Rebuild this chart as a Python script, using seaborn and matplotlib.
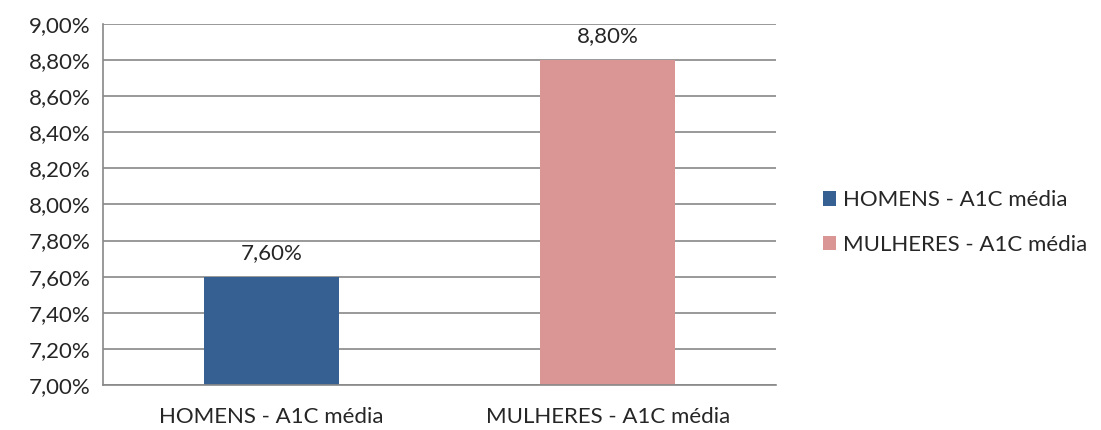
import matplotlib
matplotlib.use("Agg")
import matplotlib.pyplot as plt
import matplotlib.ticker as mticker
import pandas as pd
import seaborn as sns

# dados
categorias = ["HOMENS - A1C média", "MULHERES - A1C média"]
valores = [7.60, 8.80]
cores = ["#376092", "#D99694"]

df = pd.DataFrame({"grupo": categorias, "a1c": valores})

sns.set_style("white")
plt.rcParams['font.family'] = ['Lato', 'DejaVu Sans']
fs = 16

fig = plt.figure(figsize=(11.01, 4.30), dpi=100)
ax = fig.add_axes([0.0936, 0.1047, 0.6112, 0.8395])

sns.barplot(data=df, x="grupo", y="a1c", hue="grupo", palette=cores,
            width=0.40, dodge=False, legend=True, ax=ax, saturation=1,
            linewidth=0)

ax.set_ylim(7.0, 9.0)
ax.set_yticks([7.0 + 0.2 * i for i in range(11)])
ax.yaxis.set_major_formatter(mticker.FuncFormatter(lambda v, p: f"{v:.2f}%".replace(".", ",")))
ax.grid(axis="y", color="#888888", linewidth=1.2)
ax.set_axisbelow(True)

# rótulos de dados
for c in ax.containers:
    ax.bar_label(c, labels=[f"{v:.2f}%".replace(".", ",") for v in c.datavalues],
                 padding=10, fontsize=fs)

# eixo x: ticks nas fronteiras das categorias
ax.set_xlim(-0.5, 1.5)
ax.set_xticks([0, 1])
ax.set_xticklabels(categorias)
ax.xaxis.set_minor_locator(mticker.FixedLocator([-0.5, 0.5, 1.5]))
ax.tick_params(axis="x", which="major", length=0, pad=16, labelsize=fs)
ax.tick_params(axis="x", which="minor", length=6, color="#888888", width=1.2, direction="out")
ax.tick_params(axis="y", length=6, color="#888888", width=1.2, direction="out", labelsize=fs, pad=3)
ax.set_xlabel("")
ax.set_ylabel("")

for s in ["top", "right"]:
    ax.spines[s].set_visible(False)
for s in ["left", "bottom"]:
    ax.spines[s].set_color("#888888")
    ax.spines[s].set_linewidth(1.2)

leg = ax.legend(loc="center left", bbox_to_anchor=(1.04, 0.45), frameon=False,
                fontsize=fs, handlelength=0.6, handleheight=0.6, labelspacing=1.1,
                handletextpad=0.3)

fig.savefig("out.png", dpi=100)
